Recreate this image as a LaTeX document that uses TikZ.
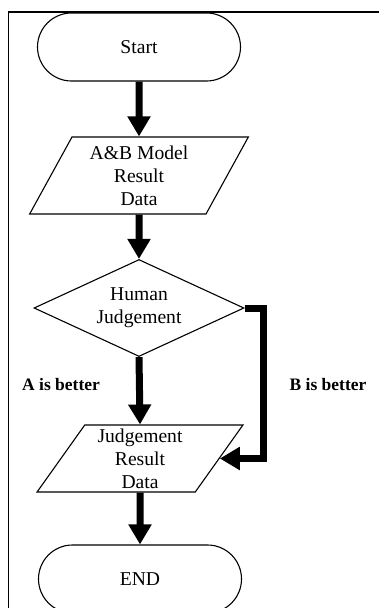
\documentclass[tikz,border=0pt]{standalone}
\usepackage{fontspec}
\setmainfont{Liberation Serif}
\usetikzlibrary{shapes.geometric,arrows.meta}
\begin{document}
\begin{tikzpicture}[x=1pt,y=-1pt,
  box/.style={draw, line width=1.1pt, inner sep=0pt, align=center,
    font=\fontsize{19.6}{23}\selectfont},
  terminal/.style={box, rectangle, rounded corners=34pt,
    minimum width=203pt, minimum height=68pt},
  io/.style={box, trapezium, trapezium stretches=true},
  decision/.style={box, diamond, shape aspect=2.16,
    minimum width=210pt, minimum height=97pt},
  flow/.style={line width=7pt, line join=miter,
    -{Triangle[width=22pt,length=20pt]}},
  tag/.style={font=\bfseries\fontsize{17.5}{20}\selectfont},
  frame/.style={line width=1.6pt}
]
% page area
\useasboundingbox (0,0) rectangle (379,608);
\clip (0,0) rectangle (379,608);

% outer frame (only the top and left edges fall inside the page)
\draw[frame] (8.5,640) -- (8.5,12) -- (400,12);

% flowchart nodes
\node[terminal] (start) at (139,47) {Start};
\node[io, trapezium left angle=62.5, trapezium right angle=117.5,
      minimum width=219pt, minimum height=77pt] (model) at (139,175.5)
      {A\&B Model\\Result\\Data};
\node[decision] (judge) at (139,308) {\rule{0pt}{4pt}Human\\Judgement};
\node[io, trapezium left angle=58.5, trapezium right angle=121.5,
      minimum width=206pt, minimum height=67pt] (result) at (140,458.5)
      {Judgement\\Result\\Data};
\node[terminal] (finish) at (140,579) {END};

% branch labels
\node[tag] (abetter) at (61,385) {A is better};
\node[tag] (bbetter) at (328,385) {B is better};

% connectors
\coordinate (bturn) at (263,308);
\draw[flow] (start.south) -- (model.north);
\draw[flow] (model.south) -- (judge.north);
\draw[flow] (judge.south) -- (result.north);
\draw[flow] (judge.east) -- (bturn) |- (result.east);
\draw[flow] (result.south) -- (finish.north);
\end{tikzpicture}
\end{document}
